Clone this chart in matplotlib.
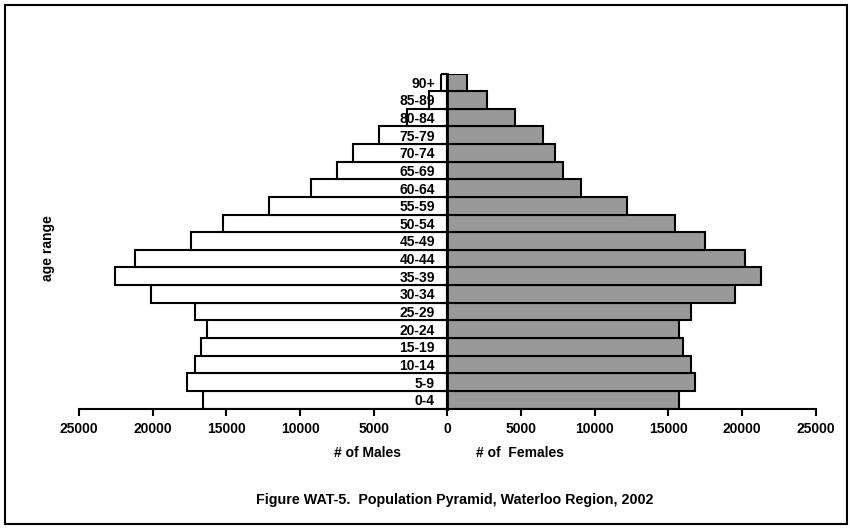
import numpy as np
import matplotlib
matplotlib.use("Agg")
import matplotlib.pyplot as plt
from matplotlib.patches import Rectangle

plt.rcParams['font.family'] = ['Liberation Sans', 'DejaVu Sans']
plt.rcParams['font.weight'] = 'bold'

# age groups, bottom to top
ages = ['0-4', '5-9', '10-14', '15-19', '20-24', '25-29', '30-34', '35-39',
        '40-44', '45-49', '50-54', '55-59', '60-64', '65-69', '70-74',
        '75-79', '80-84', '85-89', '90+']
males = [16560, 17650, 17110, 16700, 16290, 17110, 20100, 22540, 21180,
         17380, 15210, 12080, 9230, 7470, 6380, 4620, 2720, 1220, 410]
females = [15710, 16790, 16520, 15980, 15710, 16520, 19510, 21280, 20190,
           17470, 15440, 12180, 9050, 7830, 7290, 6460, 4560, 2660, 1310]
xticks = [-25000, -20000, -15000, -10000, -5000, 0, 5000, 10000, 15000, 20000, 25000]

fig = plt.figure(figsize=(8.5, 5.29), dpi=100)
ax = fig.add_axes([79 / 850, 1 - 408.5 / 529, (815.7 - 79) / 850, (408.5 - 73.5) / 529])

y = np.arange(len(ages))
ax.barh(y, -np.array(males), height=1.0, color='white', edgecolor='black', linewidth=1.5, zorder=2)
ax.barh(y, females, height=1.0, color='#999999', edgecolor='black', linewidth=1.5, zorder=2)

ax.set_xlim(-25000, 25000)
ax.set_ylim(-0.5, len(ages) - 0.5)
ax.set_axisbelow(False)  # labels sit on top of the male bars

for s in ['top', 'right']:
    ax.spines[s].set_visible(False)
ax.spines['left'].set_position(('data', 0))
ax.spines['left'].set_linewidth(2)
ax.spines['left'].set_zorder(3)
ax.spines['bottom'].set_linewidth(1.5)

ax.set_xticks(xticks)
ax.set_xticklabels([str(abs(v)) for v in xticks], fontsize=10, fontweight='bold')
ax.tick_params(axis='x', direction='out', length=5, width=1.5, pad=5)

ax.set_yticks(y)
ax.set_yticklabels(ages, fontsize=10, fontweight='bold')
ax.tick_params(axis='y', which='major', length=0, pad=9)
ax.set_yticks(np.arange(len(ages) + 1) - 0.5, minor=True)
ax.tick_params(axis='y', which='minor', direction='out', length=4, width=1.5)

fig.text(48 / 850, 1 - 248 / 529, 'age range', rotation=90, ha='center', va='center',
         fontsize=10, fontweight='bold')
fig.text(368 / 850, 1 - 453 / 529, '# of Males', ha='center', va='center',
         fontsize=10, fontweight='bold')
fig.text(520 / 850, 1 - 453 / 529, '# of  Females', ha='center', va='center',
         fontsize=10, fontweight='bold')
fig.text(455 / 850, 1 - 500 / 529, 'Figure WAT-5.  Population Pyramid, Waterloo Region, 2002',
         ha='center', va='center', fontsize=10.3, fontweight='bold')

fig.patches.append(Rectangle((5 / 850, 5 / 529), 842 / 850, 519 / 529, transform=fig.transFigure,
                             fill=False, edgecolor='black', linewidth=1.5))

fig.savefig('out.png', dpi=100)
